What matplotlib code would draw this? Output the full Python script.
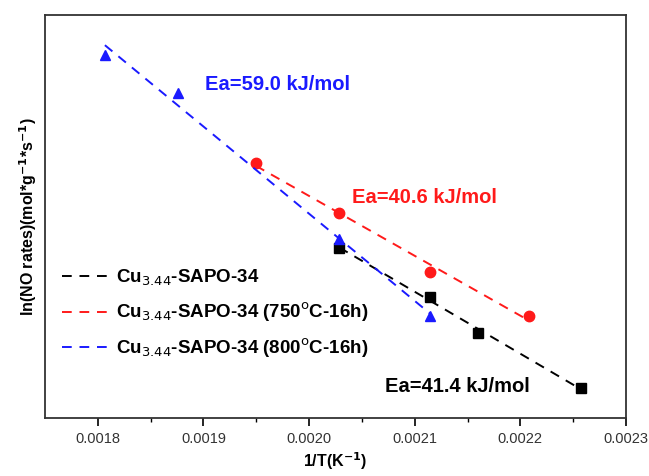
import numpy as np
import matplotlib
matplotlib.use("Agg")
import matplotlib.pyplot as plt

plt.rcParams['font.family'] = ['Liberation Sans', 'DejaVu Sans']

# 1/T values (K^-1) and ln(NO rate) values
x_fresh = [0.0020286, 0.0021143, 0.0021600, 0.0022571]
y_fresh = [-12.894, -13.293, -13.585, -14.033]

x_750 = [0.0019495, 0.0020286, 0.0021143, 0.0022086]
y_750 = [-12.203, -12.610, -13.089, -13.447]

x_800 = [0.0018067, 0.0018762, 0.0020286, 0.0021143]
y_800 = [-11.325, -11.634, -12.821, -13.447]

labels = ['Cu$_{3.44}$-SAPO-34',
          'Cu$_{3.44}$-SAPO-34 (750$^{\\rm o}$C-16h)',
          'Cu$_{3.44}$-SAPO-34 (800$^{\\rm o}$C-16h)']
ea_texts = ['Ea=41.4 kJ/mol', 'Ea=40.6 kJ/mol', 'Ea=59.0 kJ/mol']

fig = plt.figure(figsize=(6.49, 4.76), dpi=100)
ax = fig.add_axes([45 / 649, 1 - 418 / 476, (626 - 45) / 649, (418 - 15) / 476])

series = [(x_fresh, y_fresh, 'black', 's', labels[0]),
          (x_750, y_750, '#ff1a1a', 'o', labels[1]),
          (x_800, y_800, '#1a1aff', '^', labels[2])]

for xs, ys, c, m, lab in series:
    xs = np.array(xs)
    ys = np.array(ys)
    k, b = np.polyfit(xs, ys, 1)
    xf = np.array([xs.min(), xs.max()])
    ax.plot(xf, k * xf + b, ls=(0, (5, 4)), color=c, lw=1.4, label=lab)
    ax.plot(xs, ys, ls='none', marker=m, color=c, ms=7.5 if m != 's' else 6.5)

ax.text(0.0019015, -11.569, ea_texts[2], color='#1a1aff', fontsize=14.5,
        fontweight='bold', va='center')
ax.text(0.0020406, -12.480, ea_texts[1], color='#ff1a1a', fontsize=14.5,
        fontweight='bold', va='center')
ax.text(0.0020719, -14.024, ea_texts[0], color='black', fontsize=14.5,
        fontweight='bold', va='center')

ax.set_xlim(0.00175, 0.0023)
ax.set_ylim(-14.276, -11.0)
ax.set_xticks([0.0018, 0.0019, 0.0020, 0.0021, 0.0022, 0.0023])
ax.set_xticklabels(['0.0018', '0.0019', '0.0020', '0.0021', '0.0022', '0.0023'])
ax.set_xticks([0.00185, 0.00195, 0.00205, 0.00215, 0.00225], minor=True)
ax.tick_params(axis='x', which='major', direction='out', length=6, width=1.2,
               labelsize=10.5, labelcolor='#333333', pad=4)
ax.tick_params(axis='x', which='minor', direction='out', length=3, width=1.0)
ax.set_yticks([])
for s in ax.spines.values():
    s.set_linewidth(1.3)
    s.set_color('#333333')

ax.set_xlabel('1/T(K$^{\\mathbf{-1}}$)', fontsize=11.5, fontweight='bold', labelpad=3)
ax.set_ylabel('ln(NO rates)(mol*g$^{\\mathbf{-1}}$*s$^{\\mathbf{-1}}$)', fontsize=11.5,
              fontweight='bold', labelpad=4)

leg = ax.legend(loc='upper left', bbox_to_anchor=(0.0, 0.414), frameon=False,
                handlelength=2.5, handletextpad=0.4, labelspacing=0.66,
                prop={'weight': 'bold', 'size': 13.5})

fig.savefig('out.png', dpi=100)
